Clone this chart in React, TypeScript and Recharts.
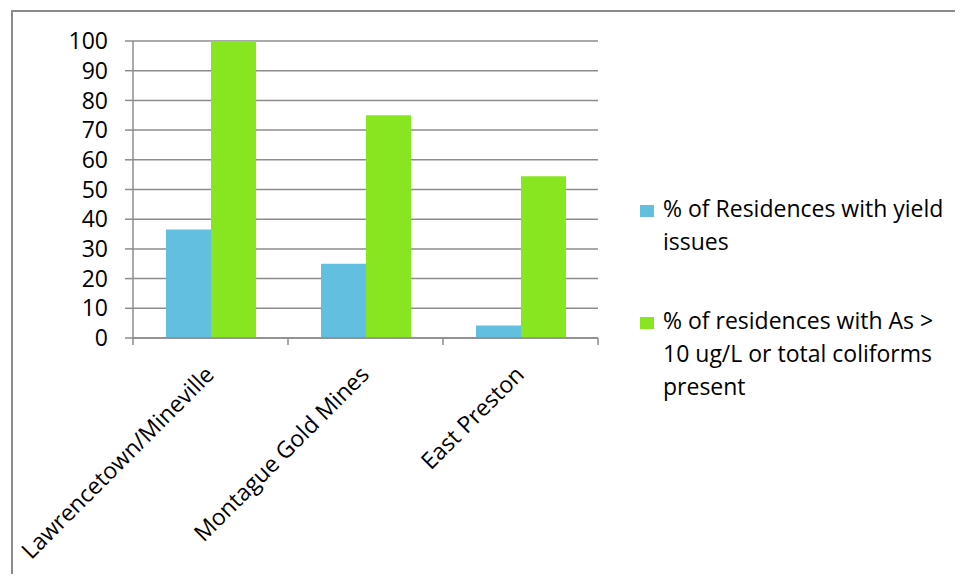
import React from 'react';
import { BarChart, Bar, XAxis, YAxis, CartesianGrid } from 'recharts';

const sites = ['Lawrencetown/Mineville', 'Montague Gold Mines', 'East Preston'];
const yieldIssues = [36.5, 25, 4.2];
const contaminated = [100, 75, 54.5];
const yTicks = [0, 10, 20, 30, 40, 50, 60, 70, 80, 90, 100];
const seriesNames = [
  '% of Residences with yield issues',
  '% of residences with As > 10 ug/L or total coliforms present',
];
const seriesColors = ['#63BFE0', '#88E621'];

const data = sites.map((site, i) => ({
  site,
  yieldIssues: yieldIssues[i],
  contaminated: contaminated[i],
}));

const FONT = '"Open Sans", sans-serif';
const GRID = '#8c8c8c';
const PLOT_W = 465;
const BAND = PLOT_W / sites.length;

const SiteTick = (props: any) => {
  const { x, y, payload, index } = props;
  const left = x - BAND / 2;
  const ax = x + 5;
  const ay = y + 38;
  return (
    <g>
      <line x1={left} y1={y} x2={left} y2={y + 7} stroke={GRID} strokeWidth={1.5} />
      {index === sites.length - 1 && (
        <line x1={x + BAND / 2} y1={y} x2={x + BAND / 2} y2={y + 7} stroke={GRID} strokeWidth={1.5} />
      )}
      <text
        x={ax}
        y={ay}
        textAnchor="end"
        fill="#000"
        fontSize={23}
        fontFamily={FONT}
        transform={`rotate(-45, ${ax}, ${ay})`}
      >
        {payload.value}
      </text>
    </g>
  );
};

const LegendBox = () => (
  <div
    style={{
      position: 'absolute',
      left: 627,
      top: 180,
      width: 320,
      fontFamily: FONT,
      fontSize: 23,
      lineHeight: '33px',
      color: '#000',
    }}
  >
    {seriesNames.map((name, i) => (
      <div key={name} style={{ display: 'flex', alignItems: 'flex-start', marginBottom: 46 }}>
        <span
          style={{
            width: 14,
            height: 12,
            marginTop: 13,
            marginRight: 9,
            flex: '0 0 auto',
            background: seriesColors[i],
          }}
        />
        <span style={{ width: 288 }}>{name}</span>
      </div>
    ))}
  </div>
);

export default function App() {
  return (
    <div
      style={{
        position: 'relative',
        marginLeft: 3,
        marginTop: 2,
        width: 950,
        height: 562,
        borderTop: `2px solid ${GRID}`,
        borderLeft: `2px solid ${GRID}`,
        fontFamily: FONT,
      }}
    >
      <BarChart
        width={950}
        height={560}
        data={data}
        margin={{ top: 29, right: 365, left: 0, bottom: 0 }}
        barCategoryGap={33}
        barGap={0}
      >
        <CartesianGrid vertical={false} stroke={GRID} strokeWidth={1.5} />
        <XAxis
          dataKey="site"
          height={234}
          interval={0}
          tickSize={0}
          tickMargin={0}
          tickLine={false}
          axisLine={{ stroke: GRID, strokeWidth: 1.5 }}
          tick={<SiteTick />}
        />
        <YAxis
          width={120}
          domain={[0, 100]}
          ticks={yTicks}
          interval={0}
          tickSize={8}
          tickMargin={17}
          axisLine={{ stroke: GRID, strokeWidth: 1.5 }}
          tickLine={{ stroke: GRID, strokeWidth: 1.5 }}
          tick={{ fill: '#000', fontSize: 23, fontFamily: FONT }}
        />
        <Bar dataKey="yieldIssues" name={seriesNames[0]} fill={seriesColors[0]} isAnimationActive={false} />
        <Bar dataKey="contaminated" name={seriesNames[1]} fill={seriesColors[1]} isAnimationActive={false} />
      </BarChart>
      <LegendBox />
    </div>
  );
}
